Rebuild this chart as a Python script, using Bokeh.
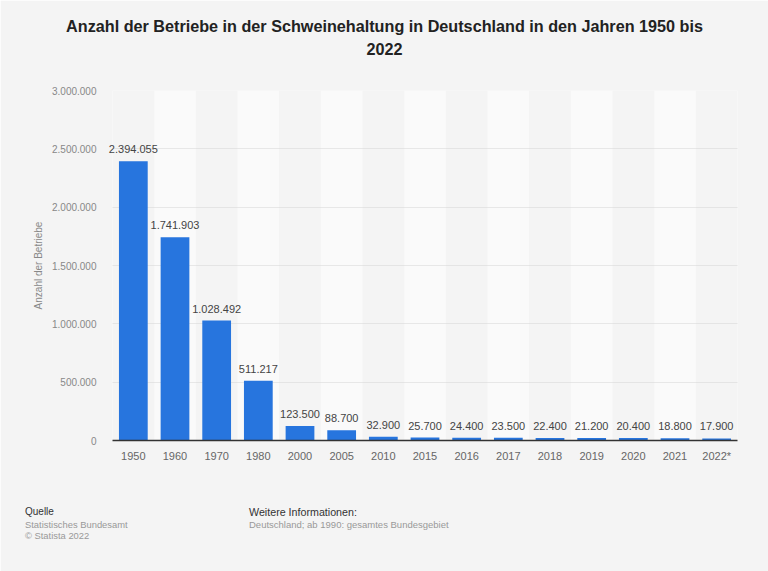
# Betriebe in der Schweinehaltung, Statista style bar chart

from bokeh.core.properties import value
from bokeh.plotting import figure
from bokeh.models import ColumnDataSource, FactorRange, FixedTicker, Label, LabelSet
from bokeh.embed import file_html
from bokeh.resources import INLINE

years = ["1950", "1960", "1970", "1980", "2000", "2005", "2010", "2015",
         "2016", "2017", "2018", "2019", "2020", "2021", "2022*"]
betriebe = [2394055, 1741903, 1028492, 511217, 123500, 88700, 32900, 25700,
            24400, 23500, 22400, 21200, 20400, 18800, 17900]
value_labels = ["2.394.055", "1.741.903", "1.028.492", "511.217", "123.500",
                "88.700", "32.900", "25.700", "24.400", "23.500", "22.400",
                "21.200", "20.400", "18.800", "17.900"]
y_ticks = [0, 500000, 1000000, 1500000, 2000000, 2500000, 3000000]
y_tick_labels = ["0", "500.000", "1.000.000", "1.500.000", "2.000.000",
                 "2.500.000", "3.000.000"]
y_max = 3000000

FONT = "Liberation Sans"
BG = "#f4f4f4"

p = figure(
    x_range=FactorRange(*years, range_padding=0, factor_padding=0),
    y_range=(0, y_max),
    width=768,
    height=571,
    toolbar_location=None,
    tools="",
    output_backend="svg",
    min_border_left=112,
    min_border_right=31,
    min_border_top=90,
    min_border_bottom=131,
    background_fill_color=BG,
    border_fill_color=BG,
    outline_line_color=None,
)

# every second column is a bit lighter
p.vbar(x=years[1::2], top=y_max, width=1.0, color="#fafafa", line_color=None, level="image")

source = ColumnDataSource(data=dict(x=years[1:], top=betriebe[1:], label=value_labels[1:]))
p.vbar(x=years, top=betriebe, width=0.69, fill_color="#2775de", line_color=None)
p.add_layout(LabelSet(x="x", y="top", text="label", source=source, text_align="center",
                      text_baseline="bottom", y_offset=8, text_font=value(FONT),
                      text_font_size="11px", text_color="#444444"))
# first label is wider than its column, in a side panel it is not clipped to the frame
# Label wants a number here, the middle of factor i is i + 0.5
p.add_layout(Label(x=years.index(years[0]) + 0.5, y=betriebe[0], text=value_labels[0],
                   text_align="center", text_baseline="bottom", y_offset=8, text_font=FONT,
                   text_font_size="11px", text_color="#444444"), "above")

p.xgrid.grid_line_color = None
p.ygrid.ticker = FixedTicker(ticks=y_ticks)
p.ygrid.grid_line_color = "#d4d4d4"
p.ygrid.grid_line_dash = [1, 1]

p.yaxis.ticker = FixedTicker(ticks=y_ticks)
p.yaxis.major_label_overrides = dict(zip(y_ticks, y_tick_labels))
p.yaxis.axis_line_color = None
p.yaxis.major_tick_line_color = None
p.yaxis.minor_tick_line_color = None
p.yaxis.major_label_standoff = 10
p.yaxis.major_label_text_font = FONT
p.yaxis.major_label_text_font_size = "10px"
p.yaxis.major_label_text_color = "#888888"
p.yaxis.axis_label = "Anzahl der Betriebe"
p.yaxis.axis_label_text_font = FONT
p.yaxis.axis_label_text_font_style = "normal"
p.yaxis.axis_label_text_font_size = "10px"
p.yaxis.axis_label_text_color = "#888888"
p.yaxis.axis_label_standoff = 5

p.xaxis.axis_line_color = "#333333"
p.xaxis.axis_line_width = 1.5
p.xaxis.major_tick_line_color = None
p.xaxis.minor_tick_line_color = None
p.xaxis.major_label_standoff = 3
p.xaxis.major_label_text_font = FONT
p.xaxis.major_label_text_font_size = "11px"
p.xaxis.major_label_text_color = "#666666"


def add_text(x, y, text, size, color, style="normal", align="left", place="below"):
    p.add_layout(Label(x=x, y=y, x_units="canvas", y_units="canvas", text=text,
                       text_font=FONT, text_font_size=size, text_color=color,
                       text_font_style=style, text_align=align,
                       text_baseline="middle"), place)


add_text(384, 25.5, "Anzahl der Betriebe in der Schweinehaltung in Deutschland in den Jahren 1950 bis",
         "16.2px", "#222222", "bold", "center", "above")
add_text(384, 48.5, "2022", "16.2px", "#222222", "bold", "center", "above")
add_text(24.5, 511, "Quelle", "10px", "#333333")
add_text(24.5, 524, "Statistisches Bundesamt", "9.4px", "#999999")
add_text(24.5, 535, "© Statista 2022", "9.4px", "#999999")
add_text(248.5, 511, "Weitere Informationen:", "10.7px", "#333333")
add_text(248.5, 524, "Deutschland; ab 1990: gesamtes Bundesgebiet", "9.5px", "#999999")

open("out.html", "w").write(file_html(p, INLINE))
